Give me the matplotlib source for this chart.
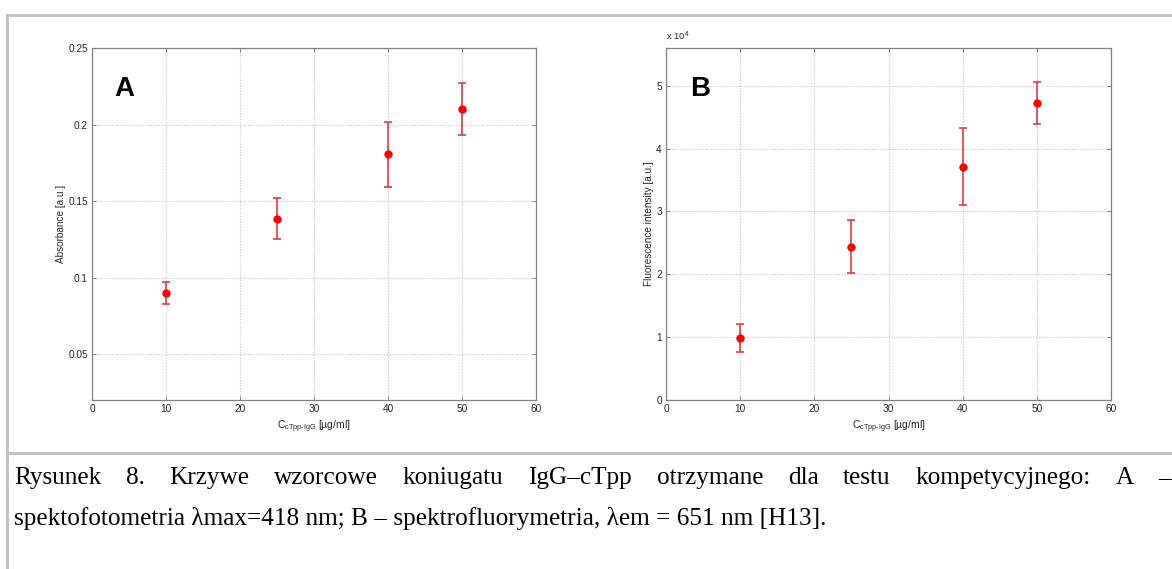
import matplotlib
matplotlib.use("Agg")
import matplotlib.pyplot as plt
from matplotlib.lines import Line2D
from matplotlib.ticker import FuncFormatter

# ---- data ----
conc = [10, 25, 40, 50]
absorb = [0.0896, 0.1383, 0.1806, 0.2102]
absorb_lo = [0.0826, 0.1254, 0.1593, 0.1932]
absorb_hi = [0.0971, 0.1517, 0.2017, 0.2274]
fluor = [9860, 24370, 37090, 47220]
fluor_lo = [7680, 20240, 30950, 43880]
fluor_hi = [12130, 28570, 43350, 50670]

xticks = [0, 10, 20, 30, 40, 50, 60]
yticksA = [0.05, 0.1, 0.15, 0.2, 0.25]
yticksA_lbl = ["0.05", "0.1", "0.15", "0.2", "0.25"]
yticksB = [0, 10000, 20000, 30000, 40000, 50000]

caption1 = "Rysunek 8. Krzywe wzorcowe koniugatu IgG–cTpp otrzymane dla testu kompetycyjnego: A –"
caption2 = "spektofotometria λmax=418 nm; B – spektrofluorymetria, λem = 651 nm [H13]."

plt.rcParams["font.family"] = ["Liberation Sans", "DejaVu Sans"]
plt.rcParams["mathtext.fontset"] = "custom"
plt.rcParams["mathtext.rm"] = "Liberation Sans"
plt.rcParams["mathtext.it"] = "Liberation Sans:italic"
plt.rcParams["mathtext.bf"] = "Liberation Sans:bold"

W, H = 1172, 569
fig = plt.figure(figsize=(W / 100, H / 100), dpi=100)

def fx(px):
    return px / W

def fy(py):
    return 1 - py / H

# frame lines
border = "#c0c0c0"
fig.add_artist(Line2D([fx(7), 1], [fy(15), fy(15)], color=border, lw=2))
fig.add_artist(Line2D([fx(7), fx(7)], [fy(15), 0], color=border, lw=2))
fig.add_artist(Line2D([fx(7), 1], [fy(453), fy(453)], color=border, lw=2))

spine_c = "#808080"
tick_c = "#262626"
grid_c = "#c4c4c4"
red = "#ff0000"
err_c = "#e23b3b"

def style(ax):
    for s in ax.spines.values():
        s.set_color(spine_c)
        s.set_linewidth(0.9)
    ax.tick_params(direction="in", length=3, width=0.7, color=spine_c,
                   labelsize=7.3, labelcolor=tick_c, top=True, right=True, pad=3)
    ax.grid(True, linestyle=(0, (1, 1.5)), color=grid_c, linewidth=0.8)
    ax.set_axisbelow(True)

xlabel = "C$_{\\mathregular{cTpp\u2010IgG}}$ [µg/ml]"

# Panel A
axA = fig.add_axes([fx(92), fy(400), fx(536) - fx(92), fy(48) - fy(400)])
style(axA)
axA.errorbar(conc, absorb,
             yerr=[[a - l for a, l in zip(absorb, absorb_lo)],
                   [h - a for a, h in zip(absorb, absorb_hi)]],
             fmt="none", ecolor=err_c, elinewidth=1.2, capsize=3, capthick=1.2)
axA.plot(conc, absorb, "o", color=red, markersize=5)
axA.set_xlim(0, 60)
axA.set_ylim(0.02, 0.25)
axA.set_xticks(xticks)
axA.set_yticks(yticksA)
axA.set_yticklabels(yticksA_lbl)
axA.set_ylabel("Absorbance [a.u.]", fontsize=7.2, color=tick_c, labelpad=1.5)
axA.set_xlabel(xlabel, fontsize=7.5, color=tick_c, labelpad=3)
axA.text(3.0, 0.2187, "A", fontsize=20, fontweight="bold",
         ha="left", va="baseline")

# Panel B
axB = fig.add_axes([fx(666), fy(400), fx(1111) - fx(666), fy(48) - fy(400)])
style(axB)
axB.errorbar(conc, fluor,
             yerr=[[a - l for a, l in zip(fluor, fluor_lo)],
                   [h - a for a, h in zip(fluor, fluor_hi)]],
             fmt="none", ecolor=err_c, elinewidth=1.2, capsize=3, capthick=1.2)
axB.plot(conc, fluor, "o", color=red, markersize=5)
axB.set_xlim(0, 60)
axB.set_ylim(0, 56000)
axB.set_xticks(xticks)
axB.set_yticks(yticksB)
axB.yaxis.set_major_formatter(FuncFormatter(lambda v, p: f"{v / 1e4:g}"))
axB.set_ylabel("Fluorescence intensity [a.u.]", fontsize=7.2, color=tick_c, labelpad=1.5)
axB.set_xlabel(xlabel, fontsize=7.5, color=tick_c, labelpad=3)
axB.text(3.2, 48400, "B", fontsize=20, fontweight="bold",
         ha="left", va="baseline")
axB.text(0.0, 1.015, r"x 10$^{\mathregular{4}}$", transform=axB.transAxes,
         fontsize=6.8, color=tick_c, ha="left", va="bottom")

# caption, line 1 justified
cap_fs = 18.2
fig.canvas.draw()
r = fig.canvas.get_renderer()
words = caption1.split(" ")
tmp = [fig.text(0, 0, w, fontsize=cap_fs, family="Liberation Serif") for w in words]
widths = [t.get_window_extent(r).width for t in tmp]
for t in tmp:
    t.remove()
x0, x1 = 14, 1171
gap = (x1 - x0 - sum(widths)) / (len(words) - 1)
x = x0
for w, wd in zip(words, widths):
    fig.text(fx(x), fy(484), w, fontsize=cap_fs, family="Liberation Serif",
             ha="left", va="baseline")
    x += wd + gap
fig.text(fx(14), fy(525), caption2, fontsize=cap_fs, family="Liberation Serif",
         ha="left", va="baseline")

fig.savefig("out.png", dpi=100)
